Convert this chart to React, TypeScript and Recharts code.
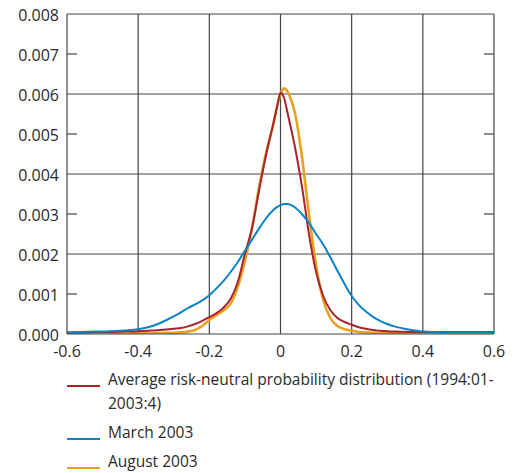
import React from "react";
import { LineChart, Line, XAxis, YAxis, ReferenceLine } from "recharts";

// log return (x) and density values
const X_VALUES = [
  -0.6, -0.56, -0.52, -0.48, -0.44, -0.4, -0.36, -0.32, -0.3, -0.28, -0.26, -0.24, -0.22,
  -0.2, -0.18, -0.16, -0.14, -0.12, -0.1, -0.08, -0.06, -0.04, -0.02, -0.01, 0, 0.01,
  0.02, 0.03, 0.04, 0.06, 0.08, 0.1, 0.12, 0.14, 0.16, 0.18, 0.2, 0.22, 0.24, 0.26,
  0.28, 0.3, 0.32, 0.36, 0.4, 0.44, 0.48, 0.52, 0.56, 0.6,
];
const AVERAGE = [
  0.00004, 0.00004, 0.00005, 0.00005, 0.00006, 0.00007, 0.00009, 0.00011, 0.00013, 0.00015, 0.00019, 0.00025, 0.00033,
  0.00042, 0.00052, 0.00066, 0.00088, 0.0013, 0.002, 0.00265, 0.0036, 0.0045, 0.00527, 0.00566, 0.00603, 0.0059,
  0.00552, 0.00512, 0.0047, 0.0037, 0.0025, 0.00155, 0.00095, 0.0006, 0.0004, 0.0003, 0.00023, 0.00017, 0.00013, 0.0001,
  0.00008, 0.00007, 0.00006, 0.00005, 0.00005, 0.00005, 0.00005, 0.00005, 0.00005, 0.00005,
];
const MARCH_2003 = [
  0.00004, 0.00005, 0.00006, 0.00007, 0.00009, 0.00012, 0.0002, 0.00035, 0.00044, 0.00054, 0.00065, 0.00074, 0.00084,
  0.00097, 0.00114, 0.00133, 0.00155, 0.0018, 0.00208, 0.00236, 0.00264, 0.0029, 0.0031, 0.00317, 0.00322, 0.00325,
  0.00325, 0.00322, 0.00317, 0.003, 0.00278, 0.0025, 0.00224, 0.00192, 0.00158, 0.00125, 0.00095, 0.00073, 0.00056, 0.00043,
  0.00033, 0.00025, 0.00019, 0.00011, 0.00006, 0.00005, 0.00004, 0.00004, 0.00004, 0.00004,
];
const AUGUST_2003 = [
  0.00001, 0.00001, 0.00001, 0.00001, 0.00001, 0.00002, 0.00002, 0.00003, 0.00003, 0.00004, 0.00006, 0.0001, 0.0002,
  0.00035, 0.00047, 0.00059, 0.00076, 0.00118, 0.00182, 0.00265, 0.00368, 0.00455, 0.00525, 0.00568, 0.006, 0.00614,
  0.00606, 0.00585, 0.00555, 0.00445, 0.003, 0.00172, 0.00085, 0.0004, 0.0002, 0.00012, 0.00008, 0.00005, 0.00004, 0.00003,
  0.00002, 0.00002, 0.00002, 0.00002, 0.00002, 0.00002, 0.00002, 0.00002, 0.00002, 0.00002,
];

const X_TICKS = [-0.6, -0.4, -0.2, 0, 0.2, 0.4, 0.6];
const Y_TICKS = [0, 0.001, 0.002, 0.003, 0.004, 0.005, 0.006, 0.007, 0.008];
const X_GRID = [-0.4, -0.2, 0, 0.2, 0.4];
const Y_GRID = [0.002, 0.004, 0.006, 0.008];

const SERIES = [
  { key: "avg", name: "Average risk-neutral probability distribution (1994:01-\n2003:4)", color: "#a8232e", width: 2, values: AVERAGE },
  { key: "mar", name: "March 2003", color: "#0a82c8", width: 2, values: MARCH_2003 },
  { key: "aug", name: "August 2003", color: "#e9a220", width: 2.6, values: AUGUST_2003 },
];
const DRAW_ORDER = ["aug", "avg", "mar"];

const data = X_VALUES.map((x, i) => ({
  x,
  avg: AVERAGE[i],
  mar: MARCH_2003[i],
  aug: AUGUST_2003[i],
}));

const W = 520;
const H = 372;
const MARGIN = { top: 14, right: 26, bottom: 8, left: 0 };
const Y_AXIS_W = 67;
const PLOT_RIGHT = W - MARGIN.right;
const FONT = "'Open Sans', 'DejaVu Sans', sans-serif";
const GRID = "#444";
const TEXT = "#2a2a2a";

function YTick(props: any) {
  const { x, y, payload } = props;
  const v = payload.value as number;
  const odd = Math.round(v * 1000) % 2 === 1;
  const axisX = x + 8;
  return (
    <g>
      <text x={x} y={y} dy={7} textAnchor="end" fill={TEXT} fontSize={16} fontFamily={FONT}>
        {v.toFixed(3)}
      </text>
      {odd && (
        <>
          <line x1={axisX} x2={axisX + 10} y1={y} y2={y} stroke={GRID} strokeWidth={1.2} />
          <line x1={PLOT_RIGHT - 10} x2={PLOT_RIGHT} y1={y} y2={y} stroke={GRID} strokeWidth={1.2} />
        </>
      )}
    </g>
  );
}

export default function App() {
  const legendTops = [367, 420, 449];
  return (
    <div style={{ position: "absolute", left: 0, top: 0, width: W, height: 473, background: "#fff", fontFamily: FONT }}>
      <LineChart width={W} height={H} data={data} margin={MARGIN}>
        <XAxis
          dataKey="x"
          type="number"
          domain={[-0.6, 0.6]}
          ticks={X_TICKS}
          tickFormatter={(v: number) => (v === 0 ? "0" : String(v))}
          tickSize={0}
          tickMargin={12}
          height={30}
          axisLine={{ stroke: GRID, strokeWidth: 1.2 }}
          tick={{ fill: TEXT, fontSize: 16, fontFamily: FONT }}
          allowDataOverflow
        />
        <YAxis
          type="number"
          domain={[0, 0.008]}
          ticks={Y_TICKS}
          width={Y_AXIS_W}
          tickSize={0}
          tickMargin={8}
          axisLine={{ stroke: GRID, strokeWidth: 1.2 }}
          tick={<YTick />}
          allowDataOverflow
        />
        {X_GRID.map((v) => (
          <ReferenceLine key={`vx${v}`} x={v} stroke={GRID} strokeWidth={1.2} />
        ))}
        {Y_GRID.map((v) => (
          <ReferenceLine key={`hy${v}`} y={v} stroke={GRID} strokeWidth={1.2} />
        ))}
        <ReferenceLine x={0.6} stroke={GRID} strokeWidth={1.2} />
        {DRAW_ORDER.map((k) => {
          const s = SERIES.find((d) => d.key === k)!;
          return (
            <Line
              key={s.key}
              type="monotone"
              dataKey={s.key}
              name={s.name}
              stroke={s.color}
              strokeWidth={s.width}
              dot={false}
              activeDot={false}
              isAnimationActive={false}
            />
          );
        })}
      </LineChart>
      {SERIES.map((s, i) => (
        <div
          key={s.key}
          style={{ position: "absolute", left: 67, top: legendTops[i], display: "flex", alignItems: "flex-start", fontSize: 15.5, lineHeight: "24px", color: TEXT }}
        >
          <div style={{ width: 33, height: 2.4, background: s.color, marginTop: 18, flex: "none" }} />
          <div style={{ marginLeft: 8, whiteSpace: "pre-line" }}>{s.name}</div>
        </div>
      ))}
    </div>
  );
}
